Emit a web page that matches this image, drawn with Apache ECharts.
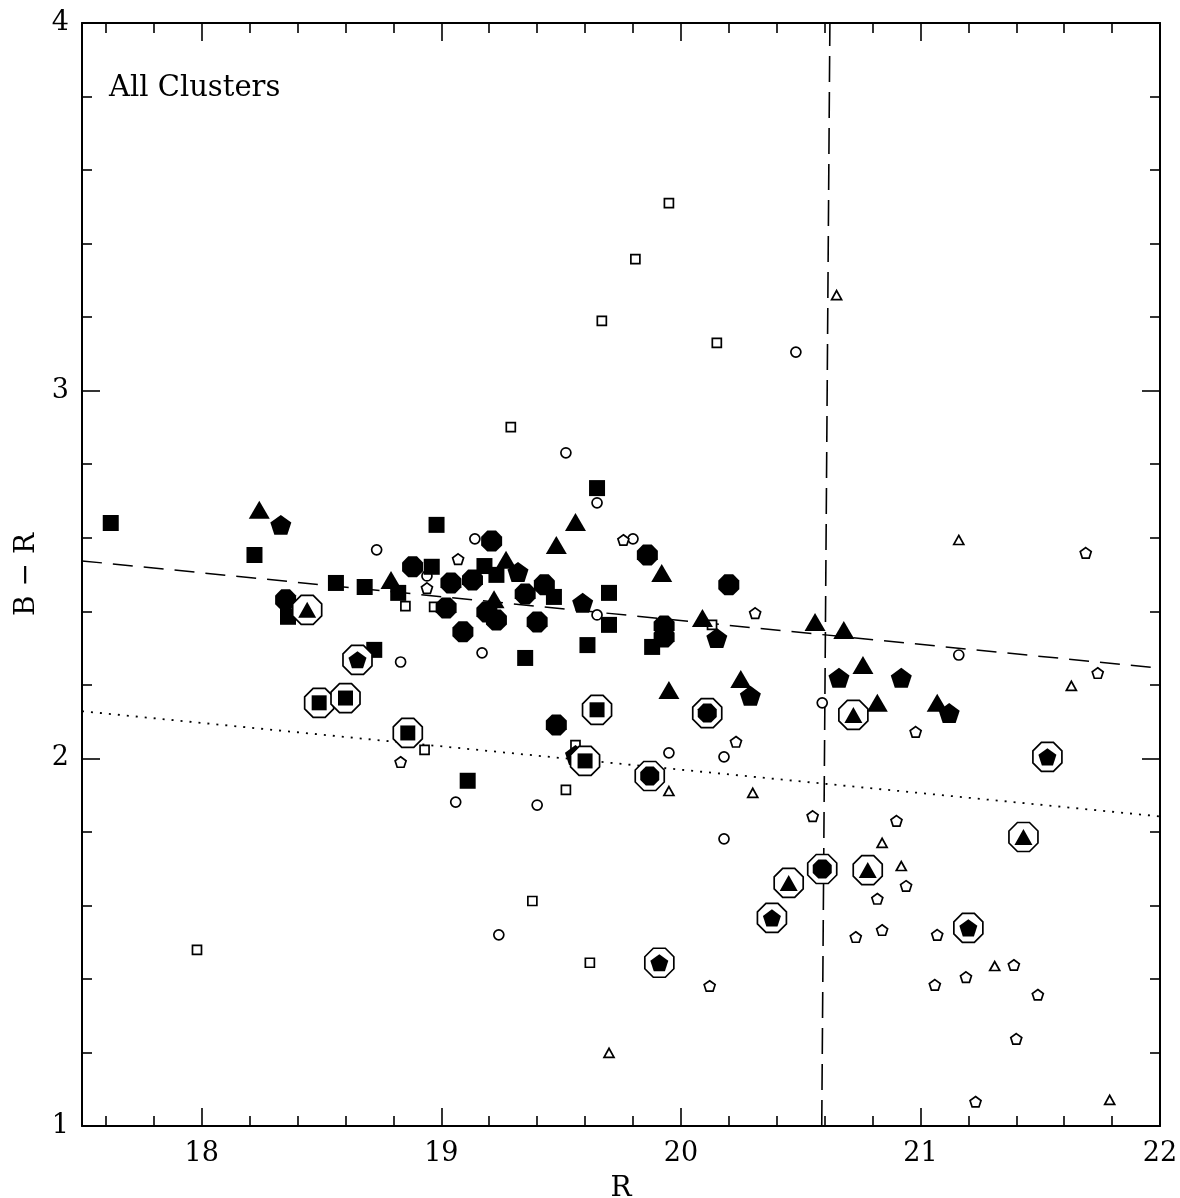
<!DOCTYPE html>
<html>
<head>
<meta charset="utf-8">
<script src="https://cdn.jsdelivr.net/npm/echarts@6/dist/echarts.min.js"></script>
<style>
html,body{margin:0;padding:0;background:#fff;}
#chart{width:1180px;height:1198px;}
</style>
</head>
<body>
<div id="chart"></div>
<script>
// ---- Data: [R, B-R] ----
const filledSquares = [
  [17.62,2.640],[18.22,2.553],[18.56,2.477],[18.68,2.466],[18.36,2.385],[18.82,2.450],
  [18.96,2.521],[18.98,2.635],[18.72,2.295],[19.18,2.523],[19.23,2.499],[19.47,2.439],
  [19.65,2.735],[19.70,2.450],[19.70,2.363],[19.61,2.308],[19.35,2.273],[19.88,2.303],
  [19.11,1.939]
];
const filledTriangles = [
  [18.24,2.676],[18.79,2.485],[19.22,2.433],[19.27,2.540],[19.48,2.580],[19.56,2.643],
  [19.92,2.504],[19.95,2.186],[20.09,2.382],[20.25,2.216],[20.56,2.371],[20.68,2.349],
  [20.76,2.254],[20.82,2.151],[21.07,2.151]
];
const filledPentagons = [
  [18.33,2.635],[19.32,2.507],[19.59,2.423],[19.56,2.009],[20.15,2.327],[20.29,2.170],
  [20.66,2.219],[20.92,2.219],[21.12,2.123]
];
const filledCircles = [
  [18.35,2.431],[18.88,2.521],[19.04,2.477],[19.13,2.485],[19.21,2.591],[19.02,2.409],
  [19.09,2.344],[19.19,2.398],[19.23,2.376],[19.35,2.447],[19.43,2.472],[19.40,2.371],
  [19.86,2.553],[19.93,2.360],[19.93,2.330],[19.48,2.091],[20.20,2.472]
];
const circledSquares = [
  [18.49,2.151],[18.60,2.164],[18.86,2.069],[19.65,2.132],[19.60,1.993]
];
const circledTriangles = [
  [18.44,2.404],[20.45,1.661],[20.72,2.118],[20.78,1.696],[21.43,1.786]
];
const circledPentagons = [
  [18.65,2.268],[21.53,2.004],[20.38,1.566],[19.91,1.444],[21.20,1.539]
];
const circledCircles = [
  [20.11,2.123],[19.87,1.952],[20.59,1.699]
];
const openSquares = [
  [19.95,3.510],[19.81,3.358],[19.67,3.190],[20.15,3.130],[19.29,2.901],[18.85,2.414],
  [18.97,2.412],[18.93,2.023],[19.56,2.036],[19.52,1.914],[19.38,1.612],[19.62,1.444],
  [17.98,1.479],[20.13,2.363]
];
const openCircles = [
  [20.48,3.105],[19.52,2.831],[19.65,2.695],[19.80,2.597],[19.14,2.597],[18.73,2.567],
  [18.94,2.496],[19.65,2.390],[18.83,2.262],[19.17,2.287],[19.95,2.015],[20.18,2.004],
  [19.06,1.881],[19.40,1.873],[20.18,1.781],[19.24,1.520],[20.59,2.151],[21.16,2.281]
];
const openPentagons = [
  [19.07,2.542],[18.94,2.463],[19.76,2.594],[18.83,1.990],[20.31,2.395],[20.23,2.045],
  [20.55,1.843],[20.90,1.830],[20.94,1.653],[20.82,1.618],[20.84,1.533],[20.73,1.514],
  [21.07,1.520],[21.06,1.384],[20.12,1.381],[20.48,1.650],[21.39,1.438],[21.19,1.405],
  [21.49,1.357],[21.40,1.237],[21.23,1.066],[20.98,2.072],[21.69,2.559],[21.74,2.232]
];
const openTriangles = [
  [20.65,3.260],[21.16,2.594],[21.63,2.197],[19.95,1.911],[20.30,1.906],[20.84,1.770],
  [20.92,1.707],[21.31,1.435],[19.70,1.199],[21.79,1.071]
];
// reference lines
const dashedFitLine = [[17.5,2.537],[22,2.245]];
const dottedFitLine = [[17.5,2.128],[22,1.842]];
const magnitudeLimitLine = [[20.588,1],[20.622,4]];
// ticks
const xMajorTicks = [18,19,20,21,22];
const xMinorTicks = [17.6,17.8,18.2,18.4,18.6,18.8,19.2,19.4,19.6,19.8,20.2,20.4,20.6,20.8,21.2,21.4,21.6,21.8];
const yMajorTicks = [1,2,3,4];
const yMinorTicks = [1.2,1.4,1.6,1.8,2.2,2.4,2.6,2.8,3.2,3.4,3.6,3.8];

// ---- Symbols ----
const PENT = 'path://M50,0L97.55,34.55L79.39,90.45L20.61,90.45L2.45,34.55Z';
const OCT = 'path://M29.3,0L70.7,0L100,29.3L100,70.7L70.7,100L29.3,100L0,70.7L0,29.3Z';
const FONT = 'DejaVu Serif';

function xAx(pos, ticks, len, showLabel, showLine){
  return {type:'value', min:17.5, max:22, position:pos, gridIndex:0,
    axisLine:{show:showLine, onZero:false, lineStyle:{color:'#000', width:2}},
    axisTick:{show:true, inside:true, length:len, customValues:ticks, lineStyle:{color:'#000', width:1.6}},
    axisLabel:{show:showLabel, customValues:ticks, color:'#000', fontFamily:FONT, fontSize:27, margin:14},
    splitLine:{show:false}, minorTick:{show:false},
    name: showLabel ? 'R' : '', nameLocation:'middle', nameGap:49,
    nameTextStyle:{color:'#000', fontFamily:FONT, fontSize:28}
  };
}
function yAx(pos, ticks, len, showLabel, showLine){
  return {type:'value', min:1, max:4, position:pos, gridIndex:0,
    axisLine:{show:showLine, onZero:false, lineStyle:{color:'#000', width:2}},
    axisTick:{show:true, inside:true, length:len, customValues:ticks, lineStyle:{color:'#000', width:1.6}},
    axisLabel:{show:showLabel, customValues:ticks, color:'#000', fontFamily:FONT, fontSize:27, margin:13},
    splitLine:{show:false}, minorTick:{show:false},
    name: showLabel ? 'B \u2212 R' : '', nameLocation:'middle', nameGap:40,
    nameTextStyle:{color:'#000', fontFamily:FONT, fontSize:28}
  };
}

function scatter(data, symbol, size, filled){
  return {type:'scatter', data:data, symbol:symbol, symbolSize:size, symbolKeepAspect:true,
    itemStyle: filled ? {color:'#000', borderWidth:0, opacity:1}
                      : {color:'#fff', borderColor:'#000', borderWidth:1.7, opacity:1},
    silent:true, xAxisIndex:0, yAxisIndex:0};
}
function line(data, dash, width){
  return {type:'line', data:data, symbol:'none', silent:true, xAxisIndex:0, yAxisIndex:0,
    lineStyle:{color:'#000', width:width, type:dash}, z:1};
}

const chart = echarts.init(document.getElementById('chart'), null, {renderer:'canvas'});
chart.setOption({
  animation:false,
  backgroundColor:'#fff',
  title:{text:'All Clusters', left:109, top:74, padding:0,
    textStyle:{color:'#000', fontFamily:FONT, fontSize:29, fontWeight:'normal'}},
  grid:{left:82, right:20, top:23, bottom:72, containLabel:false, outerBoundsMode:'none'},
  xAxis:[
    xAx('bottom', xMajorTicks, 18, true, true),
    xAx('bottom', xMinorTicks, 10, false, false),
    xAx('top', xMajorTicks, 18, false, true),
    xAx('top', xMinorTicks, 10, false, false)
  ],
  yAxis:[
    yAx('left', yMajorTicks, 18, true, true),
    yAx('left', yMinorTicks, 10, false, false),
    yAx('right', yMajorTicks, 18, false, true),
    yAx('right', yMinorTicks, 10, false, false)
  ],
  series:[
    line(dashedFitLine, [20,11], 1.5),
    line(dottedFitLine, [2,7], 1.8),
    line(magnitudeLimitLine, [26,10], 1.6),
    scatter(openSquares, 'rect', 9, false),
    scatter(openCircles, 'circle', 10, false),
    scatter(openPentagons, PENT, 11, false),
    scatter(openTriangles, 'triangle', [10,9], false),
    scatter(filledSquares, 'rect', 16, true),
    scatter(filledTriangles, 'triangle', [21,18], true),
    scatter(filledPentagons, PENT, 21, true),
    scatter(filledCircles, OCT, 21, true),
    scatter(circledSquares, OCT, 29, false),
    scatter(circledTriangles, OCT, 29, false),
    scatter(circledPentagons, OCT, 29, false),
    scatter(circledCircles, OCT, 29, false),
    scatter(circledSquares, 'rect', 15, true),
    scatter(circledTriangles, 'triangle', [18,16], true),
    scatter(circledPentagons, PENT, 18, true),
    scatter(circledCircles, OCT, 19, true)
  ]
});
</script>
</body>
</html>
